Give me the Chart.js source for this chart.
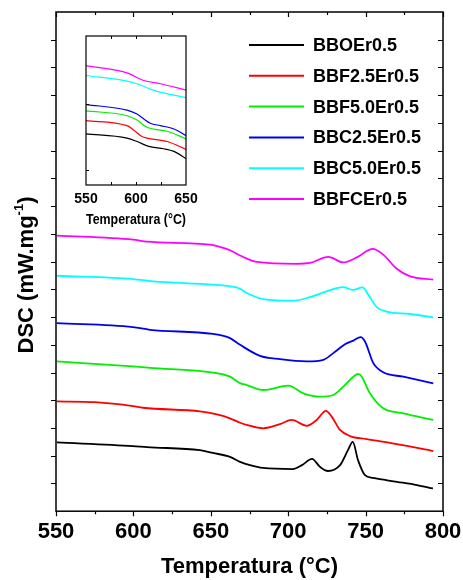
<!DOCTYPE html>
<html>
<head>
<meta charset="utf-8">
<script src="https://cdn.jsdelivr.net/npm/chart.js@4.4.0/dist/chart.umd.min.js"></script>
<style>
  html, body { margin: 0; padding: 0; background: #fff; }
  #wrap { position: relative; width: 463px; height: 580px; }
  #main { position: absolute; left: 0; top: 0; }
  #inset { position: absolute; left: 60px; top: 25px; }
</style>
</head>
<body>
<div id="wrap">
  <canvas id="main" width="463" height="580"></canvas>
  <canvas id="inset" width="150" height="205"></canvas>
</div>
<script>
const seriesNames = ['BBOEr0.5', 'BBF2.5Er0.5', 'BBF5.0Er0.5', 'BBC2.5Er0.5', 'BBC5.0Er0.5', 'BBFCEr0.5'];
const seriesColors = ['#000000', '#ff0000', '#00f000', '#0000f0', '#00ffff', '#ff00ff'];

// main plot: temperature (°C) and DSC (stacked, arb. offset)
const tBBO = [550.6, 599.7, 608.8, 643, 651.4, 662.4, 668.9, 675.3, 683.7, 703.1, 708.9, 715.4, 720.5, 725.7, 733.5, 738.6, 741.7, 745.1, 749.6, 754.8, 770.3, 783.2, 793.5];
const dBBO = [2.48, 2.35, 2.31, 2.20, 2.10, 1.96, 1.78, 1.66, 1.56, 1.52, 1.66, 1.89, 1.60, 1.45, 1.66, 2.20, 2.50, 1.84, 1.30, 1.20, 1.06, 0.94, 0.82];

const tBBF25 = [550.6, 575, 599.7, 606.2, 643, 654, 662.4, 668.9, 673.2, 683.9, 694.7, 702.3, 712, 718.4, 724.4, 728.1, 733.5, 739.9, 750.7, 770.1, 793.7];
const dBBF25 = [3.96, 3.93, 3.79, 3.73, 3.60, 3.49, 3.35, 3.19, 3.11, 2.99, 3.14, 3.29, 3.08, 3.29, 3.62, 3.41, 2.93, 2.71, 2.60, 2.42, 2.17];

const tBBF50 = [550.6, 599.7, 610.7, 651.4, 662.4, 668.9, 673.2, 683.9, 700.1, 709.8, 720.5, 729.1, 735.6, 742.1, 745.3, 747.5, 752.8, 761.4, 774.4, 793.7];
const dBBF50 = [5.40, 5.22, 5.17, 5.00, 4.85, 4.62, 4.55, 4.37, 4.53, 4.25, 4.13, 4.19, 4.49, 4.85, 4.95, 4.85, 4.25, 3.71, 3.53, 3.29];

const tBBC25 = [550.6, 599.7, 610.7, 651.4, 662.4, 668.9, 681.8, 694.7, 712, 722.7, 729.1, 736.7, 742.1, 746.8, 749.6, 755, 761.4, 774.4, 793.7];
const dBBC25 = [6.78, 6.64, 6.54, 6.39, 6.24, 6.00, 5.60, 5.48, 5.40, 5.46, 5.70, 6.02, 6.15, 6.28, 6.12, 5.34, 5.01, 4.85, 4.61];

const tBBC50 = [550.6, 599.7, 612.7, 651.4, 662.4, 668.9, 673.2, 683.9, 703.3, 714.1, 724.9, 735.6, 741.7, 748.1, 751.7, 757.2, 763.6, 778.7, 793.7];
const dBBC50 = [8.49, 8.37, 8.29, 8.17, 8.11, 8.02, 7.87, 7.65, 7.59, 7.72, 7.93, 8.08, 7.98, 8.07, 7.81, 7.36, 7.20, 7.11, 6.99];

const tBBFC = [550.6, 599.7, 608.8, 649.5, 655.9, 662.4, 668.9, 679.7, 705.5, 714.1, 725.9, 735.6, 744.3, 754.6, 761.4, 770.1, 778.7, 793.7];
const dBBFC = [9.94, 9.79, 9.72, 9.61, 9.53, 9.41, 9.22, 8.99, 8.92, 8.95, 9.17, 8.97, 9.15, 9.46, 9.25, 8.74, 8.47, 8.35];

// inset: 550-650 °C zoom
const tiBBO = [550, 591, 601, 612.7, 627.9, 637.9, 650];
const diBBO = [0.55, 0.486, 0.435, 0.36, 0.325, 0.285, 0.175];
const tiBBF25 = [550, 591, 597.6, 606, 611, 631.2, 650];
const diBBF25 = [0.75, 0.675, 0.61, 0.51, 0.486, 0.435, 0.315];
const tiBBF50 = [550, 591, 601, 611, 631.2, 650];
const diBBF50 = [0.90, 0.825, 0.76, 0.65, 0.59, 0.475];
const tiBBC25 = [550, 591, 601, 614.4, 624.5, 638, 650];
const diBBC25 = [0.995, 0.91, 0.85, 0.71, 0.675, 0.625, 0.525];
const tiBBC50 = [550, 591, 601, 617.8, 650];
const diBBC50 = [1.435, 1.349, 1.31, 1.21, 1.10];
const tiBBFC = [550, 591, 607.7, 624.5, 650];
const diBBFC = [1.585, 1.475, 1.36, 1.31, 1.214];

const xTicks = [550, 600, 650, 700, 750, 800];
const xTicksInset = [550, 600, 650];

const mainT = [tBBO, tBBF25, tBBF50, tBBC25, tBBC50, tBBFC];
const mainD = [dBBO, dBBF25, dBBF50, dBBC25, dBBC50, dBBFC];
const insetT = [tiBBO, tiBBF25, tiBBF50, tiBBC25, tiBBC50, tiBBFC];
const insetD = [diBBO, diBBF25, diBBF50, diBBC25, diBBC50, diBBFC];

const FONT = "'Liberation Sans', Arial, sans-serif";
Chart.defaults.font.family = FONT;
Chart.defaults.color = '#000';

function makeSets(ts, ds, width) {
    return ts.map((t, i) => ({
        label: seriesNames[i],
        data: t.map((v, j) => ({ x: v, y: ds[i][j] })),
        borderColor: seriesColors[i],
        borderWidth: width,
        pointRadius: 0,
        fill: false,
        cubicInterpolationMode: 'monotone'
    }));
}

// let layout padding decide the plot edges, not the label overhang
function noOverhang(scale) {
    scale.paddingLeft = 0;
    scale.paddingRight = 0;
}

const mainDeco = {
    id: 'mainDeco',
    afterDraw(chart) {
        const { ctx, chartArea: a, scales: { x, y } } = chart;
        ctx.save();
        ctx.strokeStyle = '#000';
        ctx.lineWidth = 1.5;
        ctx.strokeRect(a.left, a.top, a.right - a.left, a.bottom - a.top);
        ctx.lineWidth = 1.2;
        ctx.beginPath();
        for (let t = 550; t <= 800; t += 25) {
            const px = Math.round(x.getPixelForValue(t)) + 0.5;
            const len = t % 50 === 0 ? 5 : 3;
            ctx.moveTo(px, a.bottom); ctx.lineTo(px, a.bottom + len);
            ctx.moveTo(px, a.top); ctx.lineTo(px, a.top + len);
        }
        for (let v = 1; v < 18; v++) {
            const py = Math.round(y.getPixelForValue(v)) + 0.5;
            ctx.moveTo(a.left, py); ctx.lineTo(a.left - 5, py);
            ctx.moveTo(a.right, py); ctx.lineTo(a.right - 5, py);
        }
        ctx.stroke();

        // y title with superscript
        ctx.fillStyle = '#000';
        ctx.translate(25, 275);
        ctx.rotate(-Math.PI / 2);
        ctx.textBaseline = 'alphabetic';
        const big = 'bold 22px ' + FONT, small = 'bold 13px ' + FONT;
        ctx.font = big;
        const w1 = ctx.measureText('DSC (mW.mg').width;
        const w3 = ctx.measureText(')').width;
        ctx.font = small;
        const w2 = ctx.measureText('-1').width;
        let sx = -(w1 + w2 + w3) / 2;
        ctx.font = big;
        ctx.fillText('DSC (mW.mg', sx, 8);
        ctx.font = small;
        ctx.fillText('-1', sx + w1, -2);
        ctx.font = big;
        ctx.fillText(')', sx + w1 + w2, 8);
        ctx.restore();

        // legend
        ctx.save();
        ctx.font = 'bold 18px ' + FONT;
        ctx.textBaseline = 'middle';
        chart.data.datasets.forEach((ds, i) => {
            const ly = 45 + i * 30.8;
            ctx.strokeStyle = ds.borderColor;
            ctx.lineWidth = 2;
            ctx.beginPath();
            ctx.moveTo(249, ly); ctx.lineTo(304, ly);
            ctx.stroke();
            ctx.fillStyle = '#000';
            ctx.fillText(ds.label, 313, ly + 1);
        });
        ctx.restore();
    }
};

new Chart(document.getElementById('main'), {
    type: 'line',
    data: { datasets: makeSets(mainT, mainD, 1.8) },
    options: {
        responsive: false,
        animation: false,
        devicePixelRatio: 1,
        layout: { padding: { left: 56, right: 20, top: 12, bottom: 0 } },
        plugins: { legend: { display: false }, tooltip: { enabled: false } },
        scales: {
            x: {
                type: 'linear', min: 550, max: 800,
                grid: { display: false, drawTicks: false },
                border: { display: false },
                afterBuildTicks: s => { s.ticks = xTicks.map(v => ({ value: v })); },
                afterFit: noOverhang,
                ticks: { font: { size: 22, weight: 'bold' }, padding: 8, maxRotation: 0, autoSkip: false },
                title: { display: true, text: 'Temperatura (°C)', font: { size: 22, weight: 'bold' }, padding: { top: 0, bottom: 0 } }
            },
            y: { display: false, min: 0, max: 18 }
        }
    },
    plugins: [mainDeco]
});

const insetDeco = {
    id: 'insetDeco',
    beforeDatasetsDraw(chart) {
        const { ctx, chartArea: a } = chart;
        ctx.save();
        ctx.fillStyle = '#fff';
        ctx.fillRect(a.left, a.top, a.right - a.left, a.bottom - a.top);
        ctx.restore();
    },
    afterDraw(chart) {
        const { ctx, chartArea: a, scales: { x, y } } = chart;
        ctx.save();
        ctx.strokeStyle = '#000';
        ctx.lineWidth = 1.2;
        ctx.strokeRect(a.left, a.top, a.right - a.left, a.bottom - a.top);
        ctx.lineWidth = 1;
        ctx.beginPath();
        for (let t = 575; t < 650; t += 25) {
            const px = Math.round(x.getPixelForValue(t)) + 0.5;
            ctx.moveTo(px, a.bottom); ctx.lineTo(px, a.bottom - 3);
            ctx.moveTo(px, a.top); ctx.lineTo(px, a.top + 3);
        }
        for (let v = 0; v <= 1; v++) {
            const py = Math.round(y.getPixelForValue(v)) + 0.5;
            ctx.moveTo(a.left, py); ctx.lineTo(a.left + 3, py);
        }
        ctx.stroke();
        ctx.restore();
    }
};

new Chart(document.getElementById('inset'), {
    type: 'line',
    data: { datasets: makeSets(insetT, insetD, 1.2) },
    options: {
        responsive: false,
        animation: false,
        devicePixelRatio: 1,
        layout: { padding: { left: 26, right: 24, top: 11, bottom: 1.4 } },
        plugins: { legend: { display: false }, tooltip: { enabled: false } },
        scales: {
            x: {
                type: 'linear', min: 550, max: 650,
                grid: { display: false, drawTicks: false },
                border: { display: false },
                afterBuildTicks: s => { s.ticks = xTicksInset.map(v => ({ value: v })); },
                afterFit: noOverhang,
                ticks: { font: { size: 14, weight: 'bold' }, padding: 6, maxRotation: 0, autoSkip: false },
                title: { display: true, text: 'Temperatura (°C)', font: { size: 14, weight: 'bold' }, padding: { top: -2, bottom: 0 } }
            },
            y: { display: false, min: -0.225, max: 2.034 }
        }
    },
    plugins: [insetDeco]
});
</script>
</body>
</html>
